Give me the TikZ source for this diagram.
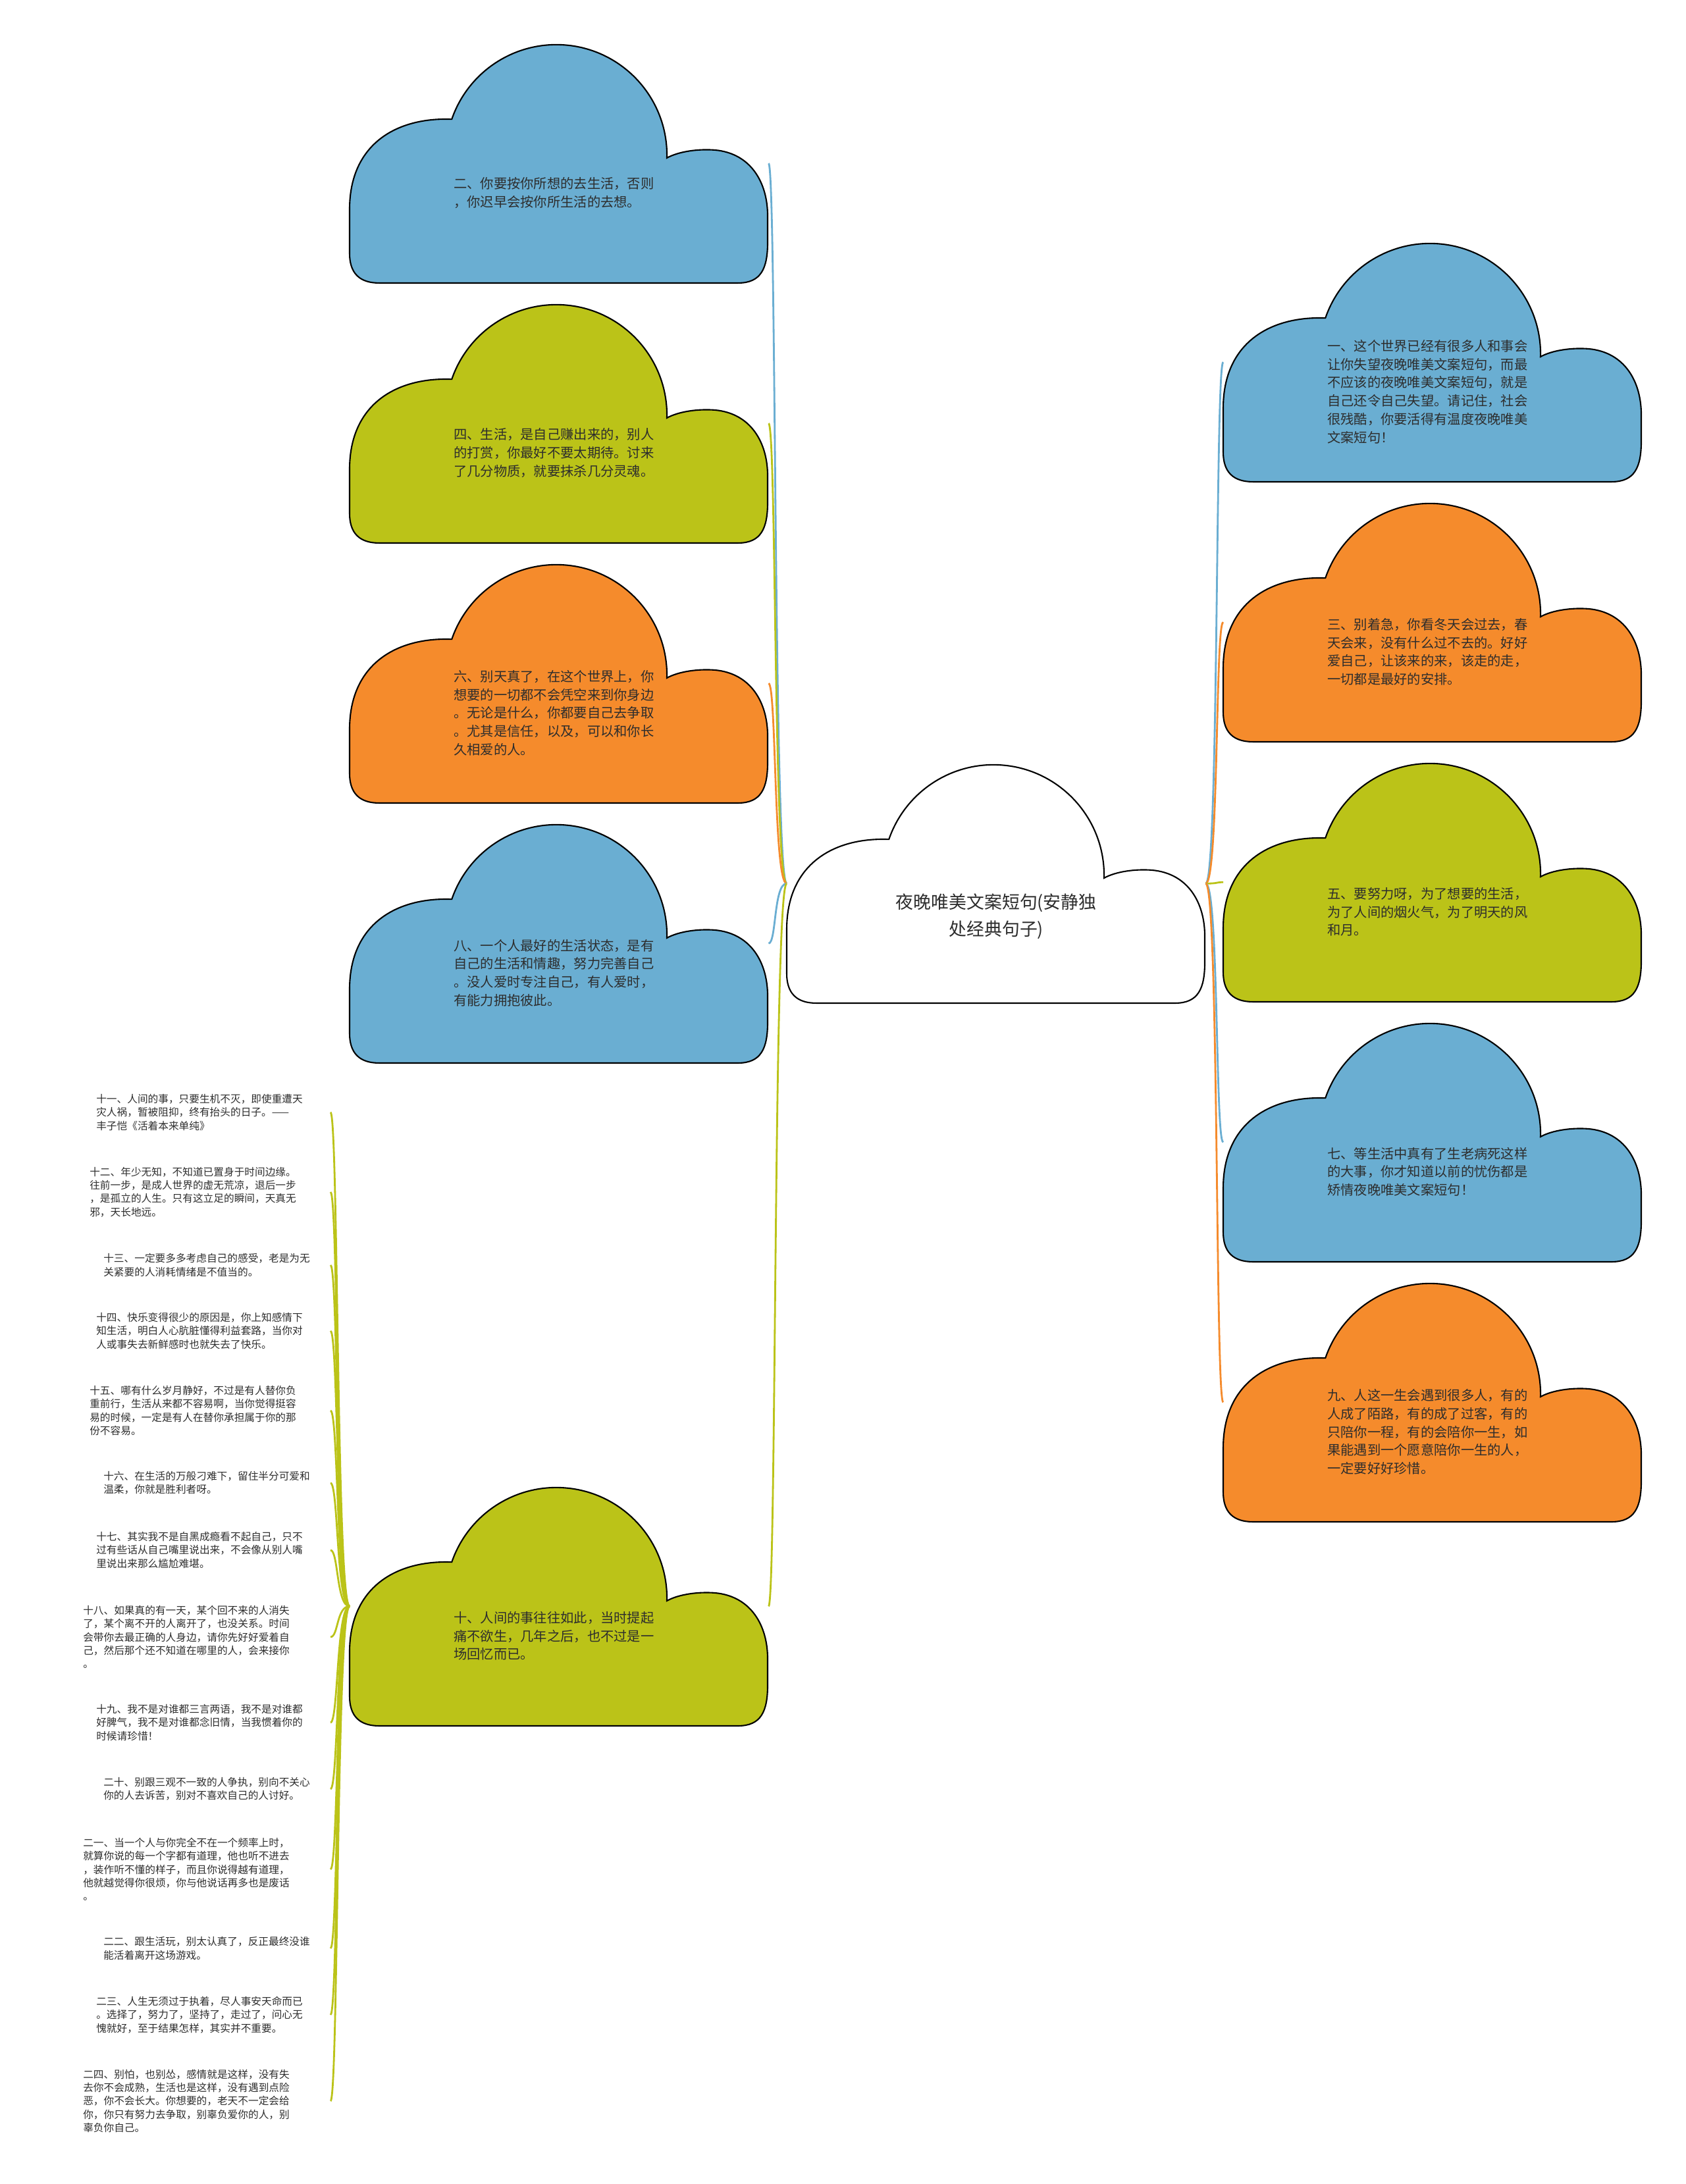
\documentclass[tikz,border=0pt]{standalone}
\usepackage{fontspec}
\setmainfont{Noto Sans CJK SC}
\usepackage{tikz}
\definecolor{cblue}{RGB}{106, 174, 210}
\definecolor{cgreen}{RGB}{187, 195, 24}
\definecolor{corange}{RGB}{245, 139, 44}
\definecolor{textgray}{RGB}{45, 45, 45}

\tikzset{
  pics/cloud/.style={code={
    \filldraw[fill=#1, draw=black, line width=0.6pt]
      (0.45,0) -- (5.90,0)
      .. controls (6.25,0) and (6.35,0.22) .. (6.35,0.62) -- (6.35,1.02)
      .. controls (6.35,1.52) and (6.10,1.97) .. (5.55,2.02)
      .. controls (5.30,2.04) and (5.00,2.00) .. (4.82,1.90)
      arc[start angle=-1.4, end angle=161, radius=1.68]
      .. controls (0.70,2.52) and (0,2.10) .. (0,1.12) -- (0,0.45)
      .. controls (0,0.15) and (0.15,0) .. (0.45,0) -- cycle;
  }},
  cloudbox/.style={anchor=south west, minimum width=6.35cm, minimum height=3.62cm, inner sep=0pt},
  cloudtext/.style={font=\fontsize{5.77}{7.95}\selectfont, text=textgray, align=left,
    text width=3.1cm, inner sep=0pt, xshift=-0.05cm, yshift=-0.45cm},
  roottext/.style={font=\fontsize{7.65}{11.9}\selectfont, text=textgray, align=center,
    inner sep=0pt, yshift=-0.5cm},
  leaf/.style={anchor=east, font=\fontsize{4.46}{5.77}\selectfont, text=textgray,
    align=left, inner sep=0pt, text width=3.55cm},
  link/.style={line width=0.8pt}
}

\begin{document}
\begin{tikzpicture}
\useasboundingbox (0,0) rectangle (25.6,33.18);

% Clouds
\pic at (11.95,17.94) {cloud=white};
\pic at (5.31,28.88) {cloud=cblue};
\pic at (5.31,24.93) {cloud=cgreen};
\pic at (5.31,20.98) {cloud=corange};
\pic at (5.31,17.03) {cloud=cblue};
\pic at (5.31,6.96) {cloud=cgreen};
\pic at (18.58,25.86) {cloud=cblue};
\pic at (18.58,21.91) {cloud=corange};
\pic at (18.58,17.96) {cloud=cgreen};
\pic at (18.58,14.01) {cloud=cblue};
\pic at (18.58,10.06) {cloud=corange};

% Nodes
\node[cloudbox, label={[roottext]center:{夜晚唯美文案短句(安静独\\处经典句子)}}] (root) at (11.95,17.94) {};

\node[cloudbox, label={[cloudtext]center:{二、你要按你所想的去生活，否则\\，你迟早会按你所生活的去想。}}] (c2) at (5.31,28.88) {};
\node[cloudbox, label={[cloudtext]center:{四、生活，是自己赚出来的，别人\\的打赏，你最好不要太期待。讨来\\了几分物质，就要抹杀几分灵魂。}}] (c4) at (5.31,24.93) {};
\node[cloudbox, label={[cloudtext]center:{六、别天真了，在这个世界上，你\\想要的一切都不会凭空来到你身边\\。无论是什么，你都要自己去争取\\。尤其是信任，以及，可以和你长\\久相爱的人。}}] (c6) at (5.31,20.98) {};
\node[cloudbox, label={[cloudtext]center:{八、一个人最好的生活状态，是有\\自己的生活和情趣，努力完善自己\\。没人爱时专注自己，有人爱时，\\有能力拥抱彼此。}}] (c8) at (5.31,17.03) {};
\node[cloudbox, label={[cloudtext]center:{十、人间的事往往如此，当时提起\\痛不欲生，几年之后，也不过是一\\场回忆而已。}}] (c10) at (5.31,6.96) {};

\node[cloudbox, label={[cloudtext]center:{一、这个世界已经有很多人和事会\\让你失望夜晚唯美文案短句，而最\\不应该的夜晚唯美文案短句，就是\\自己还令自己失望。请记住，社会\\很残酷，你要活得有温度夜晚唯美\\文案短句！}}] (c1) at (18.58,25.86) {};
\node[cloudbox, label={[cloudtext]center:{三、别着急，你看冬天会过去，春\\天会来，没有什么过不去的。好好\\爱自己，让该来的来，该走的走，\\一切都是最好的安排。}}] (c3) at (18.58,21.91) {};
\node[cloudbox, label={[cloudtext]center:{五、要努力呀，为了想要的生活，\\为了人间的烟火气，为了明天的风\\和月。}}] (c5) at (18.58,17.96) {};
\node[cloudbox, label={[cloudtext]center:{七、等生活中真有了生老病死这样\\的大事，你才知道以前的忧伤都是\\矫情夜晚唯美文案短句！}}] (c7) at (18.58,14.01) {};
\node[cloudbox, label={[cloudtext]center:{九、人这一生会遇到很多人，有的\\人成了陌路，有的成了过客，有的\\只陪你一程，有的会陪你一生，如\\果能遇到一个愿意陪你一生的人，\\一定要好好珍惜。}}] (c9) at (18.58,10.06) {};

% Leaves
\node[leaf] (q11) at (5.02,16.28) {十一、人间的事，只要生机不灭，即使重遭天\\灾人祸，暂被阻抑，终有抬头的日子。——\\丰子恺《活着本来单纯》};
\node[leaf, text width=3.65cm] (q12) at (5.02,15.07) {十二、年少无知，不知道已置身于时间边缘。\\往前一步，是成人世界的虚无荒凉，退后一步\\，是孤立的人生。只有这立足的瞬间，天真无\\邪，天长地远。};
\node[leaf, text width=3.44cm] (q13) at (5.02,13.96) {十三、一定要多多考虑自己的感受，老是为无\\关紧要的人消耗情绪是不值当的。};
\node[leaf] (q14) at (5.02,12.96) {十四、快乐变得很少的原因是，你上知感情下\\知生活，明白人心肮脏懂得利益套路，当你对\\人或事失去新鲜感时也就失去了快乐。};
\node[leaf, text width=3.65cm] (q15) at (5.02,11.75) {十五、哪有什么岁月静好，不过是有人替你负\\重前行，生活从来都不容易啊，当你觉得挺容\\易的时候，一定是有人在替你承担属于你的那\\份不容易。};
\node[leaf, text width=3.44cm] (q16) at (5.02,10.65) {十六、在生活的万般刁难下，留住半分可爱和\\温柔，你就是胜利者呀。};
\node[leaf] (q17) at (5.02,9.63) {十七、其实我不是自黑成瘾看不起自己，只不\\过有些话从自己嘴里说出来，不会像从别人嘴\\里说出来那么尴尬难堪。};
\node[leaf, text width=3.75cm] (q18) at (5.02,8.31) {十八、如果真的有一天，某个回不来的人消失\\了，某个离不开的人离开了，也没关系。时间\\会带你去最正确的人身边，请你先好好爱着自\\己，然后那个还不知道在哪里的人，会来接你\\。};
\node[leaf] (q19) at (5.02,7.01) {十九、我不是对谁都三言两语，我不是对谁都\\好脾气，我不是对谁都念旧情，当我惯着你的\\时候请珍惜！};
\node[leaf, text width=3.44cm] (q20) at (5.02,6.00) {二十、别跟三观不一致的人争执，别向不关心\\你的人去诉苦，别对不喜欢自己的人讨好。};
\node[leaf, text width=3.75cm] (q21) at (5.02,4.78) {二一、当一个人与你完全不在一个频率上时，\\就算你说的每一个字都有道理，他也听不进去\\，装作听不懂的样子，而且你说得越有道理，\\他就越觉得你很烦，你与他说话再多也是废话\\。};
\node[leaf, text width=3.44cm] (q22) at (5.02,3.58) {二二、跟生活玩，别太认真了，反正最终没谁\\能活着离开这场游戏。};
\node[leaf] (q23) at (5.02,2.57) {二三、人生无须过于执着，尽人事安天命而已\\。选择了，努力了，坚持了，走过了，问心无\\愧就好，至于结果怎样，其实并不重要。};
\node[leaf, text width=3.75cm] (q24) at (5.02,1.26) {二四、别怕，也别怂，感情就是这样，没有失\\去你不会成熟，生活也是这样，没有遇到点险\\恶，你不会长大。你想要的，老天不一定会给\\你，你只有努力去争取，别辜负爱你的人，别\\辜负你自己。};

% Edges
\draw[link, cblue] (root.west) .. controls +(-0.2,0) and +(0.12,0) .. (c2.east);
\draw[link, cgreen] (root.west) .. controls +(-0.2,0) and +(0.12,0) .. (c4.east);
\draw[link, corange] (root.west) .. controls +(-0.2,0) and +(0.12,0) .. (c6.east);
\draw[link, cblue] (root.west) .. controls +(-0.2,0) and +(0.12,0) .. (c8.east);
\draw[link, cgreen] (root.west) .. controls +(-0.2,0) and +(0.12,0) .. (c10.east);
\draw[link, cblue] (root.east) .. controls +(0.2,0) and +(-0.12,0) .. (c1.west);
\draw[link, corange] (root.east) .. controls +(0.2,0) and +(-0.12,0) .. (c3.west);
\draw[link, cgreen] (root.east) .. controls +(0.2,0) and +(-0.12,0) .. (c5.west);
\draw[link, cblue] (root.east) .. controls +(0.2,0) and +(-0.12,0) .. (c7.west);
\draw[link, corange] (root.east) .. controls +(0.2,0) and +(-0.12,0) .. (c9.west);

\draw[link, cgreen] (c10.west) .. controls +(-0.2,0) and +(0.12,0) .. (q11.east);
\draw[link, cgreen] (c10.west) .. controls +(-0.2,0) and +(0.12,0) .. (q12.east);
\draw[link, cgreen] (c10.west) .. controls +(-0.2,0) and +(0.12,0) .. (q13.east);
\draw[link, cgreen] (c10.west) .. controls +(-0.2,0) and +(0.12,0) .. (q14.east);
\draw[link, cgreen] (c10.west) .. controls +(-0.2,0) and +(0.12,0) .. (q15.east);
\draw[link, cgreen] (c10.west) .. controls +(-0.2,0) and +(0.12,0) .. (q16.east);
\draw[link, cgreen] (c10.west) .. controls +(-0.2,0) and +(0.12,0) .. (q17.east);
\draw[link, cgreen] (c10.west) .. controls +(-0.2,0) and +(0.12,0) .. (q18.east);
\draw[link, cgreen] (c10.west) .. controls +(-0.2,0) and +(0.12,0) .. (q19.east);
\draw[link, cgreen] (c10.west) .. controls +(-0.2,0) and +(0.12,0) .. (q20.east);
\draw[link, cgreen] (c10.west) .. controls +(-0.2,0) and +(0.12,0) .. (q21.east);
\draw[link, cgreen] (c10.west) .. controls +(-0.2,0) and +(0.12,0) .. (q22.east);
\draw[link, cgreen] (c10.west) .. controls +(-0.2,0) and +(0.12,0) .. (q23.east);
\draw[link, cgreen] (c10.west) .. controls +(-0.2,0) and +(0.12,0) .. (q24.east);
\end{tikzpicture}
\end{document}
